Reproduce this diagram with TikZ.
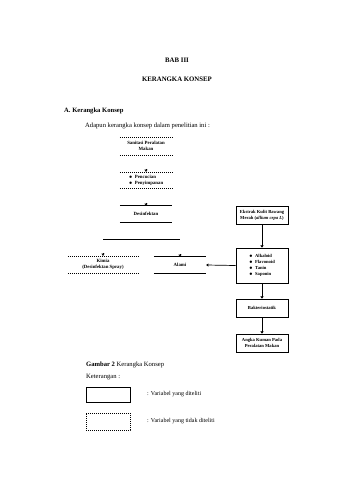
\documentclass[tikz,border=0pt]{standalone}
\usepackage{fontspec}
\setmainfont{Liberation Serif}
\usetikzlibrary{arrows.meta,calc}
\begin{document}
\begin{tikzpicture}[x=1pt,y=-1pt,
  body/.style={font=\fontsize{6.6}{8}\selectfont, inner sep=0pt},
  dg/.style={font=\fontsize{4.8}{5.8}\selectfont\bfseries, inner sep=0pt, align=center},
  open/.style={draw=none, minimum width=52pt, inner sep=0pt},
  rbox/.style={draw, line width=0.7pt, minimum width=52pt, inner sep=1pt, align=center, font=\fontsize{4.6}{5.8}\selectfont\bfseries},
  solidln/.style={line width=0.7pt},
  dashln/.style={line width=0.6pt, dash pattern=on 1.2pt off 0.8pt},
  arr/.style={-{Triangle[length=2.2pt,width=3pt]}, line width=0.7pt},
  tip/.style={-{Triangle[length=2.2pt,width=3pt]}, line width=0.3pt}
]
\useasboundingbox (0,0) rectangle (339,480);
% headings
\node[body,font=\fontsize{6.8}{8}\selectfont\bfseries] (bab) at (177,60) {BAB III};
\node[body,font=\fontsize{6.8}{8}\selectfont\bfseries] (judul) at (177,79) {KERANGKA KONSEP};
\node[body,font=\fontsize{6.6}{8}\selectfont\bfseries,anchor=west] (seca) at (64,111) {A. Kerangka Konsep};
\node[body,anchor=west] (adapun) at (85,126) {Adapun kerangka konsep dalam penelitian ini :};

% left column
\node[dg,open,minimum height=18pt] (sanitasi) at (146,146) {Sanitasi Peralatan\\Makan};
\node[dg,open,minimum height=16pt,align=left] (cuci) at (146,180) {$\bullet$\ \ Pencucian\\$\bullet$\ \ Penyimpanan};
\node[dg,open,minimum height=16pt] (desinf) at (146,214) {Desinfektan};
\coordinate (brL) at (103,239.5);
\coordinate (brR) at (180,239.5);
\node[dg,open,minimum width=70pt,minimum height=17pt] (kimia) at (103,264.5) {Kimia\\(Desinfektan Spray)};
\node[dg,open,minimum height=16pt] (alami) at (180,265) {Alami};

% borders of the open boxes
\draw[dashln] (sanitasi.north west) -- (sanitasi.north east) (sanitasi.south west) -- (sanitasi.south east);
\draw[dashln] (cuci.north west) -- (cuci.north east) (cuci.south west) -- (cuci.south east);
\draw[solidln] (desinf.north west) -- (desinf.north east) (desinf.south west) -- (desinf.south east);
\draw[dashln] (kimia.north west) -- (kimia.north east) (kimia.south west) -- (kimia.south east);
\draw[solidln] (alami.north west) -- (alami.north east) (alami.south west) -- (alami.south east);
\draw[solidln] (brL) -- (brR);

% arrowheads (shafts hidden)
\draw[tip] ($(cuci.north)+(0,-3)$) -- (cuci.north);
\draw[tip] ($(desinf.north)+(0,-3)$) -- (desinf.north);
\draw[tip] ($(kimia.north)+(0,-3)$) -- (kimia.north);
\draw[tip] ($(alami.north)+(0,-3)$) -- (alami.north);

% right column
\node[rbox,minimum height=18pt] (ekstrak) at (262,215) {Ekstrak Kulit Bawang\\Merah (\textit{allium cepa L})};
\node[rbox,minimum height=35pt,align=left] (senyawa) at (262,265.5) {$\bullet$\ \ Alkaloid\\$\bullet$\ \ Flavonoid\\$\bullet$\ \ Tanin\\$\bullet$\ \ Saponin};
\node[rbox,minimum height=18pt] (bakt) at (262,308) {Bakteriostatik};
\node[rbox,minimum height=18pt] (angka) at (262,343) {Angka Kuman Pada\\Peralatan Makan};
\draw[arr] (ekstrak) -- (senyawa);
\draw[arr] (senyawa) -- (bakt);
\draw[arr] (bakt) -- (angka);
\draw[arr] (senyawa.west) -- (alami.east);

% caption and legend
\node[body,anchor=west] (cap) at (86,365) {\textbf{Gambar 2} Kerangka Konsep};
\node[body,anchor=west] (ket) at (86,377) {Keterangan :};
\node[draw,line width=0.7pt,minimum width=44pt,minimum height=15pt,inner sep=0pt] (leg1) at (108,394.5) {};
\node[draw,dashln,minimum width=44pt,minimum height=17pt,inner sep=0pt] (leg2) at (108,421.5) {};
\node[body,font=\fontsize{6}{7}\selectfont,anchor=west] (t1) at (147,394) {: Variabel yang diteliti};
\node[body,font=\fontsize{6}{7}\selectfont,anchor=west] (t2) at (147,421) {: Variabel yang tidak diteliti};
\end{tikzpicture}
\end{document}
